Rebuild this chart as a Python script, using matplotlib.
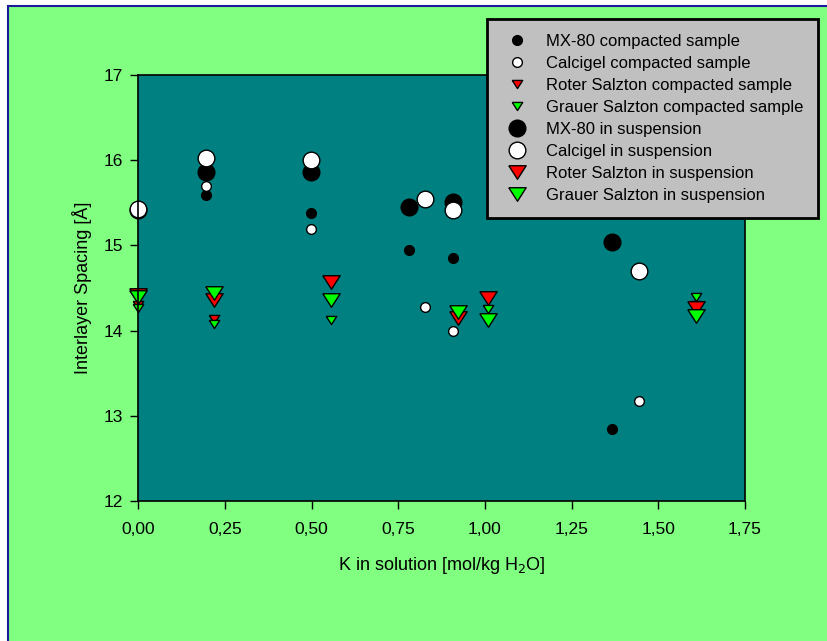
import matplotlib
matplotlib.use("Agg")
import matplotlib.pyplot as plt
from matplotlib.patches import Rectangle

plt.rcParams['font.family'] = ['Liberation Sans', 'DejaVu Sans']

# values
mx80_compact_x = [0.194, 0.498, 0.781, 0.907, 1.366]
mx80_compact_y = [15.59, 15.38, 14.95, 14.85, 12.85]
calci_compact_x = [0.194, 0.498, 0.827, 0.907, 1.445]
calci_compact_y = [15.70, 15.19, 14.28, 13.99, 13.17]
roter_compact_x = [0.0, 0.217, 0.921, 1.608]
roter_compact_y = [14.30, 14.14, 14.23, 14.30]
grauer_compact_x = [0.0, 0.217, 0.555, 0.921, 1.009, 1.608]
grauer_compact_y = [14.27, 14.08, 14.13, 14.24, 14.25, 14.39]

mx80_susp_x = [0.0, 0.194, 0.498, 0.781, 0.907, 1.366]
mx80_susp_y = [15.41, 15.86, 15.86, 15.45, 15.51, 15.04]
calci_susp_x = [0.0, 0.194, 0.498, 0.827, 0.907, 1.445]
calci_susp_y = [15.43, 16.02, 16.00, 15.54, 15.42, 14.70]
roter_susp_x = [0.0, 0.217, 0.555, 0.921, 1.009, 1.608]
roter_susp_y = [14.42, 14.36, 14.57, 14.15, 14.38, 14.26]
grauer_susp_x = [0.0, 0.217, 0.555, 0.921, 1.009, 1.608]
grauer_susp_y = [14.39, 14.44, 14.36, 14.22, 14.13, 14.17]

x_ticks = [0, 0.25, 0.5, 0.75, 1.0, 1.25, 1.5, 1.75]
x_ticklabels = ['0,00', '0,25', '0,50', '0,75', '1,00', '1,25', '1,50', '1,75']
y_ticks = [12, 13, 14, 15, 16, 17]

# flat downward triangle, wider than tall
tri = [(-1, 0.78), (1, 0.78), (0, -0.78), (-1, 0.78)]

W, H = 827, 641
fig = plt.figure(figsize=(W / 100, H / 100), dpi=100, facecolor='white')
fig.patches.append(Rectangle((8 / W, -0.02), 1.0, 1 - 6 / H + 0.02, transform=fig.transFigure,
                             facecolor='#80FF80', edgecolor='#1A1A9A', linewidth=1.5, zorder=-10))

ax = fig.add_axes([138.3 / W, 140 / H, (745 - 138.3) / W, (501 - 75) / H])
ax.set_facecolor('#008080')

series = [
    (mx80_compact_x, mx80_compact_y, 'o', 7.0, 'black', 'MX-80 compacted sample'),
    (calci_compact_x, calci_compact_y, 'o', 7.0, 'white', 'Calcigel compacted sample'),
    (roter_compact_x, roter_compact_y, tri, 7.5, '#FF0000', 'Roter Salzton compacted sample'),
    (grauer_compact_x, grauer_compact_y, tri, 7.5, '#00FF00', 'Grauer Salzton compacted sample'),
    (mx80_susp_x, mx80_susp_y, 'o', 12.0, 'black', 'MX-80 in suspension'),
    (calci_susp_x, calci_susp_y, 'o', 12.0, 'white', 'Calcigel in suspension'),
    (roter_susp_x, roter_susp_y, tri, 12.5, '#FF0000', 'Roter Salzton in suspension'),
    (grauer_susp_x, grauer_susp_y, tri, 12.5, '#00FF00', 'Grauer Salzton in suspension'),
]
for xs, ys, mk, ms, fc, lab in series:
    ax.plot(xs, ys, linestyle='none', marker=mk, markersize=ms, markerfacecolor=fc,
            markeredgecolor='black', markeredgewidth=1.0, label=lab, clip_on=False)

ax.set_xlim(0, 1.75)
ax.set_ylim(12, 17)
ax.set_xticks(x_ticks)
ax.set_xticklabels(x_ticklabels)
ax.set_yticks(y_ticks)
ax.tick_params(direction='out', length=6, width=1, labelsize=12.5, colors='black')
ax.tick_params(axis='x', pad=9)
ax.tick_params(axis='y', pad=5)
for sp in ax.spines.values():
    sp.set_linewidth(1.2)

ax.set_xlabel('K in solution [mol/kg H$_2$O]', fontsize=13, labelpad=13)
ax.set_ylabel('Interlayer Spacing [Å]', fontsize=13, labelpad=8)

leg = fig.legend(loc='upper right', bbox_to_anchor=(818 / W, 1 - 19 / H), fontsize=12,
                 frameon=True, fancybox=False, facecolor='#C0C0C0', edgecolor='black',
                 framealpha=1, borderpad=0.9, labelspacing=0.42, handletextpad=0.8,
                 borderaxespad=0, handlelength=1.8)
leg.get_frame().set_linewidth(2)
leg.set_zorder(10)

fig.savefig('out.png', dpi=100, facecolor=fig.get_facecolor())
